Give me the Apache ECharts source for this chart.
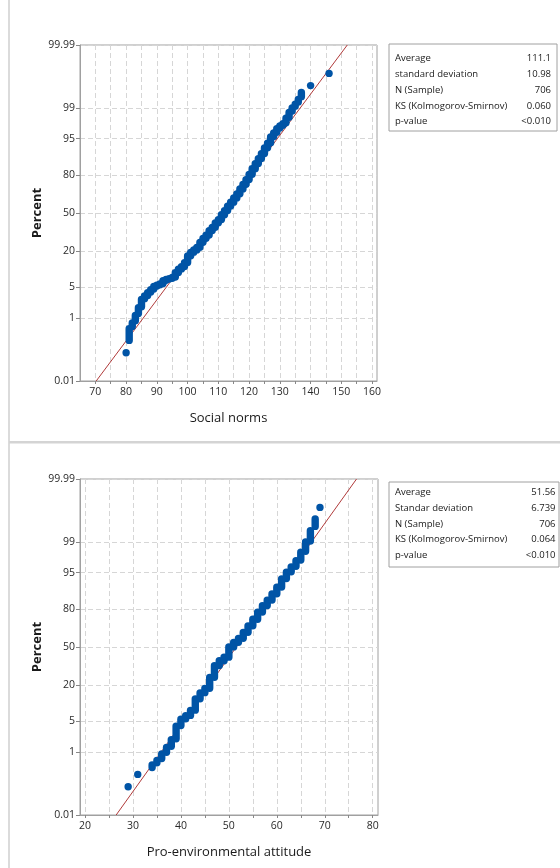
<!DOCTYPE html>
<html>
<head>
<meta charset="utf-8">
<script src="https://cdn.jsdelivr.net/npm/echarts@6/dist/echarts.min.js"></script>
<style>
html,body{margin:0;padding:0;background:#fff;}
#chart{width:560px;height:868px;}
</style>
</head>
<body>
<div id="chart"></div>
<script>
// ---------------- DATA ----------------
// Percent scale tick labels
const pctTickValues = [0.01, 1, 5, 20, 50, 80, 95, 99, 99.99];
const pctTickLabels = ['0.01', '1', '5', '20', '50', '80', '95', '99', '99.99'];

// Social norms: distinct values and cumulative percent range of the stacked points
const socialValues = [80,81,82,83,84,85,86,87,88,89,90,91,92,93,94,95,96,97,98,99,100,101,102,103,104,105,106,107,108,109,110,111,112,113,114,115,116,117,118,119,120,121,122,123,124,125,126,127,128,129,130,131,132,133,134,135,136,137,140,146];
const socialPctLow  = [0.099,0.24,0.6,0.85,1.3,1.9,2.9,3.4,4.0,4.6,5.3,5.6,5.9,6.8,7.2,7.4,7.8,9.4,10.8,11.8,13.7,17.2,19.3,20.7,22.4,25.9,28.8,31.3,34.9,37.6,41.4,44.2,48.5,52.1,56.1,59.5,63.1,66.4,70.3,73.7,77.1,80.4,83.7,86.3,88.6,90.6,92.6,94.0,95.5,96.3,97.0,97.4,97.7,98.3,98.8,99.1,99.3,99.5,99.76,99.90];
const socialPctHigh = [0.099,0.52,0.75,1.17,1.8,2.8,3.3,3.9,4.5,5.2,5.5,5.8,6.7,7.1,7.3,7.7,9.3,10.7,11.7,13.6,17.1,19.2,20.6,22.3,25.8,28.7,31.2,34.8,37.5,41.3,44.1,48.4,52.0,56.0,59.4,63.0,66.3,70.2,73.6,77.0,80.3,83.6,86.2,88.5,90.5,92.5,93.9,95.4,96.2,96.9,97.3,97.6,98.2,98.7,99.0,99.2,99.4,99.62,99.76,99.90];

// Pro-environmental attitude
const attitudeValues = [29,31,34,35,36,37,38,39,40,41,42,43,44,45,46,47,48,49,50,51,52,53,54,55,56,57,58,59,60,61,62,63,64,65,66,67,68,69];
const attitudePctLow  = [0.099,0.24,0.38,0.52,0.68,0.99,1.4,2.1,4.1,5.6,6.5,8.1,12.6,15.6,18.1,25.1,34.1,38.1,41.1,50.1,54.1,57.6,62.7,68.1,73.1,78.1,82.1,85.1,88.1,90.8,93.5,95.2,96.3,97.3,98.3,99.05,99.62,99.90];
const attitudePctHigh = [0.099,0.24,0.45,0.6,0.9,1.3,2.0,4.0,5.5,6.4,8.0,12.5,15.5,18.0,25.0,34.0,38.0,41.0,50.0,54.0,57.5,62.6,68.0,73.0,78.0,82.0,85.0,88.0,90.7,93.4,95.1,96.2,97.2,98.2,99.0,99.5,99.77,99.90];

// Statistics tables
const socialStatLabels = ['Average', 'standard deviation', 'N (Sample)', 'KS (Kolmogorov-Smirnov)', 'p-value'];
const socialStatValues = ['111.1', '10.98', '706', '0.060', '<0.010'];
const attitudeStatLabels = ['Average', 'Standar deviation', 'N (Sample)', 'KS (Kolmogorov-Smirnov)', 'p-value'];
const attitudeStatValues = ['51.56', '6.739', '706', '0.064', '<0.010'];

// Axis tick labels
const socialXTicks = [70, 80, 90, 100, 110, 120, 130, 140, 150, 160];
const socialXGrid = [70,75,80,85,90,95,100,105,110,115,120,125,130,135,140,145,150,155,160];
const attitudeXTicks = [20, 30, 40, 50, 60, 70, 80];
const attitudeXGrid = [20,25,30,35,40,45,50,55,60,65,70,75,80];

// ---------------- HELPERS ----------------
function probit(p){
  const a=[-3.969683028665376e+01,2.209460984245205e+02,-2.759285104469687e+02,1.383577518672690e+02,-3.066479806614716e+01,2.506628277459239e+00];
  const b=[-5.447609879822406e+01,1.615858368580409e+02,-1.556989798598866e+02,6.680131188771972e+01,-1.328068155288572e+01];
  const c=[-7.784894002430293e-03,-3.223964580411365e-01,-2.400758277161838e+00,-2.549732539343734e+00,4.374664141464968e+00,2.938163982698783e+00];
  const d=[7.784695709041462e-03,3.224671290700398e-01,2.445134137142996e+00,3.754408661907416e+00];
  const pl=0.02425, ph=1-pl; let q,r;
  if(p<pl){q=Math.sqrt(-2*Math.log(p));return (((((c[0]*q+c[1])*q+c[2])*q+c[3])*q+c[4])*q+c[5])/((((d[0]*q+d[1])*q+d[2])*q+d[3])*q+1);}
  if(p<=ph){q=p-0.5;r=q*q;return (((((a[0]*r+a[1])*r+a[2])*r+a[3])*r+a[4])*r+a[5])*q/(((((b[0]*r+b[1])*r+b[2])*r+b[3])*r+b[4])*r+1);}
  q=Math.sqrt(-2*Math.log(1-p));return -(((((c[0]*q+c[1])*q+c[2])*q+c[3])*q+c[4])*q+c[5])/((((d[0]*q+d[1])*q+d[2])*q+d[3])*q+1);
}
const zTicks = pctTickValues.map(p => probit(p/100));
const zMin = zTicks[0], zMax = zTicks[zTicks.length-1];
function zLabel(v){
  let best=0, bd=1e9;
  zTicks.forEach((z,i)=>{const dd=Math.abs(z-v); if(dd<bd){bd=dd;best=i;}});
  return pctTickLabels[best];
}

const FONT = '"Open Sans", Lato, sans-serif';
const DOT = '#0054A6';
const FIT = '#B03A3A';
const GRIDC = '#d6d6d6';
const BORDER = '#a0a0a0';

function columnsData(vals, lo, hi){
  return vals.map((v,i)=>[v, probit(lo[i]/100), probit(hi[i]/100)]);
}
function renderCol(params, api){
  const x = api.value(0);
  const p1 = api.coord([x, api.value(1)]);
  const p2 = api.coord([x, api.value(2)]);
  const r = 3.7;
  return {
    type:'rect',
    shape:{x:p1[0]-r, y:p2[1]-r, width:2*r, height:(p1[1]-p2[1])+2*r, r:r},
    style:{fill:DOT}
  };
}

function xAxisOpt(gridIndex, min, max, labels, grid, name){
  return {
    type:'value', gridIndex, min, max, name,
    nameLocation:'middle', nameGap:31,
    nameTextStyle:{fontFamily:FONT, fontSize:13, color:'#1a1a1a', fontWeight:500},
    axisLine:{show:true, onZero:false, lineStyle:{color:BORDER, width:1}},
    axisTick:{show:true, customValues:grid, length:3, lineStyle:{color:'#888'}},
    axisLabel:{customValues:labels, fontFamily:FONT, fontSize:10.5, color:'#2a2a2a', margin:6},
    splitLine:{show:true, lineStyle:{color:GRIDC, type:[5,3], width:1}}
  };
}
function yAxisOpt(gridIndex){
  return {
    type:'value', gridIndex, min:zMin, max:zMax, name:'Percent',
    nameLocation:'middle', nameGap:36, nameRotate:90, nameMoveOverlap:false,
    nameTextStyle:{fontFamily:FONT, fontSize:13, color:'#1a1a1a', fontWeight:'bold'},
    axisLine:{show:true, onZero:false, lineStyle:{color:BORDER, width:1}},
    axisTick:{show:true, customValues:zTicks, length:4, lineStyle:{color:'#888'}},
    axisLabel:{customValues:zTicks, formatter:zLabel, fontFamily:FONT, fontSize:10.5, color:'#2a2a2a', margin:5},
    splitLine:{show:true, lineStyle:{color:GRIDC, type:[5,3], width:1}}
  };
}

function statBox(x, y, w, h, labels, values, rowTop, rowGap, valRight){
  const children = [{
    type:'rect', shape:{x:x, y:y, width:w, height:h},
    style:{fill:'#fff', stroke:BORDER, lineWidth:1}
  }];
  labels.forEach((t,i)=>{
    children.push({type:'text', x:x+6, y:rowTop+i*rowGap,
      style:{text:t, fontFamily:FONT, fontSize:9.5, fill:'#1a1a1a', verticalAlign:'middle', align:'left'}});
    children.push({type:'text', x:valRight, y:rowTop+i*rowGap,
      style:{text:values[i], fontFamily:FONT, fontSize:9.5, fill:'#1a1a1a', verticalAlign:'middle', align:'right'}});
  });
  return {type:'group', children};
}

const sMean = parseFloat(socialStatValues[0]), sSd = parseFloat(socialStatValues[1]);
const aMean = parseFloat(attitudeStatValues[0]), aSd = parseFloat(attitudeStatValues[1]);

const chart = echarts.init(document.getElementById('chart'), null, {renderer:'canvas'});
chart.setOption({
  backgroundColor:'#fff',
  animation:false,
  grid:[
    {left:80, top:45, width:297, height:336, show:true, borderColor:BORDER, borderWidth:1, backgroundColor:'transparent'},
    {left:80, top:479, width:298, height:336, show:true, borderColor:BORDER, borderWidth:1, backgroundColor:'transparent'}
  ],
  xAxis:[
    xAxisOpt(0, 65, 161.6, socialXTicks, socialXGrid, 'Social norms'),
    xAxisOpt(1, 18.96, 81.1, attitudeXTicks, attitudeXGrid, 'Pro-environmental attitude')
  ],
  yAxis:[yAxisOpt(0), yAxisOpt(1)],
  series:[
    {type:'line', xAxisIndex:0, yAxisIndex:0, data:[[sMean+sSd*zMin, zMin],[sMean+sSd*zMax, zMax]],
      showSymbol:false, lineStyle:{color:FIT, width:1}, z:3},
    {type:'custom', xAxisIndex:0, yAxisIndex:0, data:columnsData(socialValues, socialPctLow, socialPctHigh),
      renderItem:renderCol, z:4},
    {type:'line', xAxisIndex:1, yAxisIndex:1, data:[[aMean+aSd*zMin, zMin],[aMean+aSd*zMax, zMax]],
      showSymbol:false, lineStyle:{color:FIT, width:1}, z:3},
    {type:'custom', xAxisIndex:1, yAxisIndex:1, data:columnsData(attitudeValues, attitudePctLow, attitudePctHigh),
      renderItem:renderCol, z:4}
  ],
  graphic:[
    {type:'line', shape:{x1:9, y1:0, x2:9, y2:868}, style:{stroke:'#cfcfcf', lineWidth:1.5}},
    {type:'rect', shape:{x:9, y:441, width:551, height:2.5}, style:{fill:'#d4d4d4'}},
    statBox(389, 44, 168, 87, socialStatLabels, socialStatValues, 58.5, 15.8, 551),
    statBox(389, 482, 170, 85, attitudeStatLabels, attitudeStatValues, 492.3, 15.8, 555.5)
  ]
});
</script>
</body>
</html>
